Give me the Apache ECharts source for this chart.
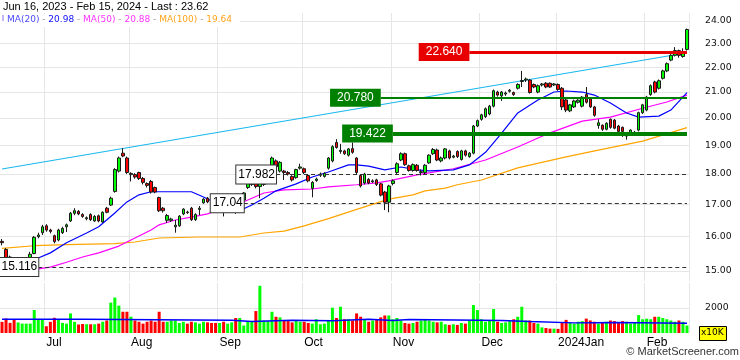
<!DOCTYPE html>
<html><head><meta charset="utf-8">
<script src="https://cdn.jsdelivr.net/npm/echarts@6/dist/echarts.min.js"></script>
<style>html,body{margin:0;padding:0;background:#fff}#c{width:740px;height:360px}</style>
</head><body><div id="c"></div>
<script>
// ---------- data ----------
const startDate = '2023-06-16';
const endDate = '2024-02-15';
const holidays = ['2023-08-15', '2023-12-25', '2023-12-26', '2024-01-01'];
const monthNames = ['Jan','Feb','Mar','Apr','May','Jun','Jul','Aug','Sep','Oct','Nov','Dec'];
const priceTicks = [15, 16, 17, 18, 19, 20, 21, 22, 23, 24];
const volumeTicks = [2000];

// [open, close, low, high]
const candles = [
[15.86,15.82,15.74,15.93],[15.62,15.33,15.30,15.66],[15.40,15.30,15.22,15.44],[15.30,15.20,15.15,15.34],[15.16,15.20,15.12,15.25],
[15.18,15.25,14.92,15.30],[15.28,15.33,15.24,15.37],[15.38,15.48,15.35,15.55],[15.50,15.98,15.48,16.02],[16.00,16.05,15.95,16.12],
[16.12,16.30,16.05,16.36],[16.33,16.20,16.15,16.38],[16.20,16.16,16.10,16.24],[16.03,15.85,15.80,16.06],[15.90,16.20,15.86,16.24],
[16.12,16.25,16.08,16.30],[16.30,16.36,16.14,16.40],[16.48,16.72,16.45,16.76],[16.72,16.80,16.66,16.88],[16.78,16.70,16.66,16.82],
[16.68,16.62,16.58,16.72],[16.55,16.58,16.50,16.62],[16.68,16.52,16.48,16.72],[16.48,16.62,16.45,16.66],[16.64,16.48,16.44,16.68],
[16.45,16.75,16.42,16.78],[16.88,16.75,16.72,16.92],[16.98,17.20,16.95,17.25],[17.42,18.15,17.38,18.20],[18.10,18.55,18.05,18.60],
[18.72,18.62,18.58,18.90],[18.55,18.05,18.00,18.60],[17.98,18.02,17.75,18.06],[17.98,17.90,17.84,18.03],[18.05,17.85,17.80,18.08],
[17.85,17.72,17.65,17.90],[17.68,17.62,17.55,17.72],[17.75,17.40,17.35,17.80],[17.55,17.40,17.36,17.58],[17.22,16.80,16.76,17.25],
[16.88,16.80,16.74,16.92],[16.50,16.65,16.42,16.70],[16.50,16.54,16.45,16.58],[16.30,16.35,16.12,16.51],[16.33,16.63,16.30,16.66],
[16.70,16.85,16.66,16.88],[16.76,16.74,16.70,16.80],[16.88,16.52,16.48,16.92],[16.52,16.68,16.48,16.72],[16.84,16.88,16.66,16.95],
[17.05,17.17,17.02,17.20],[17.20,17.08,17.04,17.24],[17.08,17.00,16.96,17.12],[17.00,16.92,16.85,17.04],[16.95,17.05,16.90,17.08],
[17.05,16.85,16.62,17.08],[16.85,16.95,16.80,16.98],[16.95,17.10,16.92,17.14],[17.05,16.95,16.70,17.08],[16.95,17.15,16.92,17.18],
[17.14,17.37,17.10,17.40],[17.55,17.75,17.50,17.80],[17.65,17.77,17.60,17.82],[17.70,17.58,17.52,17.74],[17.58,17.80,17.20,17.84],
[17.65,17.85,17.60,17.90],[17.70,17.85,17.66,17.92],[18.20,18.55,18.15,18.60],[18.45,18.25,18.20,18.50],[18.10,18.40,18.05,18.44],
[18.10,18.05,17.80,18.14],[18.05,18.00,17.95,18.10],[17.92,17.80,17.75,17.96],[17.88,18.15,17.84,18.18],[18.20,18.24,18.15,18.35],
[18.18,18.05,18.00,18.22],[17.95,17.77,17.72,17.98],[17.52,17.72,17.23,17.76],[17.78,17.83,17.74,17.88],[17.96,18.00,17.90,18.05],
[17.92,18.02,17.88,18.06],[18.20,18.55,18.15,18.58],[18.45,18.95,18.40,19.00],[19.10,18.92,18.88,19.22],[18.78,18.82,18.70,19.05],
[18.80,18.70,18.66,18.84],[18.65,18.87,18.60,18.90],[18.88,18.75,18.70,19.10],[18.55,18.05,18.00,18.58],[17.95,17.60,17.55,17.98],
[17.70,18.00,17.65,18.04],[17.82,17.70,17.66,17.86],[17.74,17.77,17.70,17.82],[17.80,17.65,17.60,17.84],[17.67,17.30,17.26,17.70],
[17.40,17.07,16.82,17.44],[17.07,17.60,16.75,17.64],[17.68,17.77,17.62,17.82],[18.05,18.35,18.00,18.40],[18.48,18.70,18.44,18.75],
[18.70,18.32,18.28,18.74],[18.28,18.12,18.08,18.32],[18.12,18.32,18.08,18.36],[18.30,18.12,18.08,18.34],[18.05,18.08,17.95,18.15],
[18.05,18.30,18.00,18.34],[18.38,18.65,18.35,18.68],[18.70,18.85,18.66,18.90],[18.83,18.48,18.44,18.88],[18.45,18.55,18.40,18.60],
[18.55,18.87,18.50,18.90],[18.80,18.55,18.50,18.84],[18.58,18.62,18.54,18.66],[18.78,18.60,18.55,18.82],[18.50,18.80,18.46,18.84],
[18.80,18.65,18.60,18.84],[18.60,18.72,18.56,18.76],[18.72,19.70,18.68,19.74],[19.70,19.90,19.66,19.94],[19.95,20.12,19.90,20.16],
[20.05,20.35,20.00,20.40],[20.15,20.45,20.10,20.50],[20.45,21.05,20.40,21.10],[21.00,20.88,20.82,21.05],[20.85,21.00,20.65,21.04],
[20.92,20.96,20.85,21.02],[21.03,21.07,20.98,21.12],[20.98,20.90,20.85,21.02],[21.15,21.30,21.10,21.35],[21.42,21.46,21.20,21.85],
[21.48,21.52,21.40,21.58],[21.48,20.98,20.94,21.52],[21.30,21.20,21.15,21.34],[21.00,21.25,20.95,21.30],[21.28,21.32,21.22,21.36],
[21.35,21.20,21.15,21.40],[21.35,21.20,21.16,21.38],[21.28,21.32,21.24,21.36],[21.30,21.10,21.05,21.34],[21.15,20.42,20.30,21.20],
[20.69,20.30,20.22,20.74],[20.27,20.50,20.22,20.54],[20.42,20.65,20.38,20.70],[20.60,20.68,20.55,20.72],[20.45,20.80,20.40,20.84],
[20.90,20.60,20.55,21.20],[20.73,20.42,20.38,20.76],[20.42,20.10,20.05,20.46],[19.72,19.82,19.60,19.95],[19.73,19.58,19.52,19.76],
[19.58,19.80,19.54,19.84],[19.95,19.65,19.60,19.98],[19.92,19.62,19.58,19.96],[19.70,19.50,19.45,19.74],[19.65,19.50,19.30,19.68],
[19.33,19.37,19.20,19.45],[19.38,19.55,19.34,19.58],[19.43,19.47,19.38,19.52],[19.55,20.20,19.50,20.24],[20.20,20.50,20.15,20.54],
[20.30,20.80,20.25,20.85],[20.90,21.25,20.85,21.30],[21.40,21.00,20.95,21.45],[21.15,21.45,21.10,21.50],[21.55,21.85,21.50,21.90],
[21.85,22.15,21.80,22.20],[22.30,22.50,22.25,22.55],[22.50,22.70,22.45,22.85],[22.70,22.50,22.40,22.74],[22.45,22.62,22.40,22.80],
[22.75,23.62,22.70,23.66]
];

// volume, x10K
const volumes = [
890,1160,810,1080,840,750,750,750,1840,1080,
1080,540,890,1215,1080,810,750,1566,890,680,
720,700,700,700,750,900,1000,2430,2835,2190,
1700,1700,1300,1000,900,750,900,1000,900,1700,
900,900,1000,1000,800,900,750,900,850,750,
900,850,800,800,800,900,750,850,1200,1200,
600,950,900,1755,3780,1000,950,1700,1300,1250,
1000,950,850,1000,900,900,800,750,1100,700,
750,1000,2025,1200,2100,1100,1100,1000,1566,1300,
1100,900,1000,1100,1250,1400,1400,1100,1200,1000,
800,750,800,900,1000,1100,1000,900,850,900,
700,650,700,650,800,750,1000,2240,1836,1100,
900,1000,1917,900,800,850,950,1100,1300,2100,
1000,1000,800,750,450,400,350,350,330,800,
1050,800,750,900,950,1150,1000,900,750,800,
900,1000,950,800,950,900,750,850,1430,1100,
1150,1100,1300,1300,1200,1100,1000,900,1000,900,
600
];

const volAvg = [[0,1107],[20,1026],[57,918],[62,1026],[72,972],[82,1107],[91,1000],[97,1080],[101,1000],[124,918],[131,810],[142,837],[152,783],[170,783]];

const ma20 = [[0,15.0],[4,15.15],[9,15.37],[12,15.52],[16,15.82],[21,16.11],[24,16.30],[28,16.73],[31,17.08],[34,17.31],[37,17.41],[47,17.41],[50,17.24],[53,17.05],[57,16.88],[60,16.86],[62,16.98],[65,17.2],[68,17.44],[73,17.67],[77,17.90],[81,18.07],[86,18.31],[88,18.31],[91,18.27],[95,18.14],[99,18.24],[103,18.14],[106,18.11],[112,18.14],[116,18.31],[120,18.75],[124,19.44],[128,20.19],[133,20.69],[137,21.0],[140,21.04],[144,21.0],[147,20.88],[151,20.57],[155,20.19],[158,20.03],[163,20.07],[166,20.30],[170,20.98]];
const ma50 = [[0,14.98],[9,15.06],[12,15.11],[16,15.25],[20,15.40],[24,15.52],[29,15.72],[33,15.96],[37,16.20],[39,16.36],[43,16.51],[47,16.60],[51,16.70],[53,16.79],[57,16.92],[61,17.14],[65,17.37],[70,17.47],[77,17.50],[81,17.57],[88,17.64],[93,17.70],[96,17.77],[103,17.97],[106,18.04],[112,18.18],[120,18.48],[128,18.94],[136,19.45],[144,19.88],[151,20.03],[159,20.37],[165,20.61],[170,20.88]];
const ma100 = [[0,15.65],[8,15.73],[16,15.76],[28,15.79],[33,15.84],[39,15.96],[49,15.99],[59,15.99],[65,16.11],[70,16.17],[75,16.33],[81,16.55],[89,16.88],[96,17.17],[102,17.31],[105,17.44],[110,17.53],[113,17.64],[119,17.80],[128,18.21],[140,18.59],[148,18.83],[159,19.15],[170,19.64]];
const trend = [[0,18.17],[170,22.61]];

const levels = [
  {value: 22.640, from: 116, text: '22.640', kind: 'red'},
  {value: 20.780, from: 94,  text: '20.780', kind: 'green'},
  {value: 19.422, from: 97,  text: '19.422', kind: 'greenThick'},
  {value: 17.982, from: 68,  text: '17.982', kind: 'dash'},
  {value: 17.04,  from: 60,  text: '17.04',  kind: 'dash'},
  {value: 15.116, from: 9,   text: '15.116', kind: 'dash'}
];
const legendItems = [['MA(20)','20.98'],['MA(50)','20.88'],['MA(100)','19.64']];
const titleText = 'Jun 16, 2023 - Feb 15, 2024 - Last : 23.62';

// ---------- build ----------
const LN = Math.log;
const dates = [];
for (let d = new Date(startDate + 'T00:00:00Z'); d <= new Date(endDate + 'T00:00:00Z'); d.setUTCDate(d.getUTCDate() + 1)) {
  const wd = d.getUTCDay();
  const s = d.toISOString().slice(0, 10);
  if (wd === 0 || wd === 6 || holidays.includes(s)) continue;
  dates.push(s);
}
const isMonthStart = (i) => i > 0 && dates[i].slice(5, 7) !== dates[i - 1].slice(5, 7);
const monthLabel = (v) => { const m = +v.slice(5, 7); return m === 1 ? v.slice(0, 4) + 'Jan' : monthNames[m - 1]; };

const pxPerLn = 531.9;
const lnMax = LN(24) + 8 / pxPerLn;
const lnMin = LN(15) - 10 / pxPerLn;
const lnTicks = priceTicks.map(LN);
const gridColor = '#e6e6e6';
const lastIdx = dates.length - 1;

const levelStyle = {
  red: {line: {color: '#e80000', width: 3, type: 'solid'}, label: {backgroundColor: '#e80000', color: '#fff', padding: [3, 7, 2, 7], borderWidth: 0}},
  green: {line: {color: '#008000', width: 2, type: 'solid'}, label: {backgroundColor: '#008000', color: '#fff', padding: [3, 7, 2, 7], borderWidth: 0}},
  greenThick: {line: {color: '#008000', width: 4, type: 'solid'}, label: {backgroundColor: '#008000', color: '#fff', padding: [3, 7, 2, 7], borderWidth: 0}},
  dash: {line: {color: '#333', width: 1, type: [4, 3]}, label: {backgroundColor: '#fff', color: '#000', padding: [3, 1, 2, 2], borderColor: '#333', borderWidth: 1}}
};
const markData = levels.map(l => {
  const st = levelStyle[l.kind];
  return [
    {coord: [l.from, LN(l.value)], lineStyle: st.line,
     label: Object.assign({show: true, position: 'start', distance: 0, formatter: l.text, fontSize: 12, lineHeight: 13,
       fontFamily: 'Liberation Sans, Arial, sans-serif'}, st.label)},
    {coord: [lastIdx, LN(l.value)]}
  ];
});

const volData = volumes.map((v, i) => ({value: v, itemStyle: {color: candles[i][1] >= candles[i][0] ? '#00ff00' : '#ff0000'}}));
const lnPairs = arr => arr.map(p => [p[0], LN(p[1])]);

const lf = 'DejaVu Sans';
const rich = {
  s: {fill: '#9a9a9a', fontSize: 9, fontFamily: lf},
  a: {fill: '#4a4aff', fontSize: 9, fontFamily: lf},
  b: {fill: '#1010ff', fontSize: 9, fontFamily: lf},
  c: {fill: '#ff33ff', fontSize: 9, fontFamily: lf},
  e: {fill: '#ffa31a', fontSize: 9, fontFamily: lf}
};
const legendText = '{a|' + legendItems[0][0] + '}{s| - }{b|' + legendItems[0][1] + '}{s| - }' +
  '{c|' + legendItems[1][0] + '}{s| - }{c|' + legendItems[1][1] + '}{s| - }' +
  '{e|' + legendItems[2][0] + '}{s| - }{e|' + legendItems[2][1] + '}';

const chart = echarts.init(document.getElementById('c'), null, {renderer: 'canvas'});
chart.setOption({
  animation: false,
  backgroundColor: '#fff',
  grid: [
    {left: 0, width: 689, top: 13, height: 268},
    {left: 0, width: 689, top: 283, height: 50}
  ],
  xAxis: [
    {type: 'category', gridIndex: 0, data: dates, boundaryGap: true,
     axisLine: {show: false}, axisTick: {show: false}, axisLabel: {show: false},
     splitLine: {show: true, interval: (i) => isMonthStart(i), lineStyle: {color: gridColor, width: 1}}},
    {type: 'category', gridIndex: 1, data: dates, boundaryGap: true,
     axisLine: {show: false}, axisTick: {show: false},
     axisLabel: {interval: (i) => isMonthStart(i), formatter: monthLabel, align: 'left', margin: 4,
       fontSize: 12, color: '#000', fontFamily: 'Liberation Sans, Arial, sans-serif'},
     splitLine: {show: true, interval: (i) => isMonthStart(i), lineStyle: {color: gridColor, width: 1}}}
  ],
  yAxis: [
    {type: 'value', gridIndex: 0, position: 'right', min: lnMin, max: lnMax, scale: true,
     axisLine: {show: false}, axisTick: {show: false, customValues: lnTicks},
     axisLabel: {customValues: lnTicks, formatter: v => Math.exp(v).toFixed(2), align: 'left', margin: 16,
       fontSize: 9.3, color: '#111', fontFamily: lf},
     splitLine: {show: true, lineStyle: {color: gridColor, width: 1}}},
    {type: 'value', gridIndex: 1, position: 'right', min: 0, max: 4000,
     axisLine: {show: false}, axisTick: {show: false, customValues: volumeTicks},
     axisLabel: {customValues: volumeTicks, formatter: v => String(Math.round(v)), align: 'left', margin: 16,
       fontSize: 9.3, color: '#111', fontFamily: lf},
     splitLine: {show: true, lineStyle: {color: gridColor, width: 1}}}
  ],
  series: [
    {type: 'line', name: 'trend', xAxisIndex: 0, yAxisIndex: 0, data: lnPairs(trend), showSymbol: false, silent: true,
     lineStyle: {color: '#1ab8f0', width: 1.2}, z: 2},
    {type: 'line', name: 'MA100', xAxisIndex: 0, yAxisIndex: 0, data: lnPairs(ma100), showSymbol: false, silent: true,
     lineStyle: {color: '#ffa500', width: 1.2}, z: 3},
    {type: 'line', name: 'MA50', xAxisIndex: 0, yAxisIndex: 0, data: lnPairs(ma50), showSymbol: false, silent: true,
     lineStyle: {color: '#ff00ff', width: 1.2}, z: 3},
    {type: 'line', name: 'MA20', xAxisIndex: 0, yAxisIndex: 0, data: lnPairs(ma20), showSymbol: false, silent: true,
     lineStyle: {color: '#0000ff', width: 1.2}, z: 3},
    {type: 'candlestick', name: 'price', xAxisIndex: 0, yAxisIndex: 0, barWidth: 3,
     data: candles.map(c => c.map(LN)), silent: true, z: 4,
     itemStyle: {color: '#00ff00', color0: '#ff0000', borderColor: '#1a1a1a', borderColor0: '#1a1a1a', borderWidth: 1},
     markLine: {silent: true, symbol: ['none', 'none'], animation: false, label: {show: false}, data: markData, z: 6}},
    {type: 'bar', name: 'volume', xAxisIndex: 1, yAxisIndex: 1, data: volData, barWidth: 3, silent: true},
    {type: 'line', name: 'volAvg', xAxisIndex: 1, yAxisIndex: 1, data: volAvg, step: 'end', showSymbol: false, silent: true,
     lineStyle: {color: '#0000ff', width: 1.5}, z: 5}
  ],
  graphic: [
    {type: 'text', left: 3, top: 1, style: {text: titleText, fill: '#000', font: '11px "Liberation Sans", Arial, sans-serif'}},
    {type: 'rect', left: 0, top: 14, shape: {width: 240, height: 13}, style: {fill: '#fff'}, z: 10},
    {type: 'line', shape: {x1: 3, y1: 15, x2: 3, y2: 21}, style: {stroke: '#8a6cff', lineWidth: 1}, z: 11},
    {type: 'text', left: 7, top: 15, z: 11, style: {text: legendText, rich: rich, fontSize: 9, fontFamily: lf}},
    {type: 'rect', left: 699, top: 326, shape: {width: 27, height: 14}, style: {fill: '#ffff00', stroke: '#000', lineWidth: 1}, z: 10},
    {type: 'text', left: 701, top: 328, z: 11, style: {text: 'x10K', fill: '#000', font: '9px "DejaVu Sans"'}},
    {type: 'text', right: 1, top: 346, style: {text: '\u00a9 MarketScreener.com', fill: '#333', font: '11px "Liberation Sans", Arial, sans-serif'}}
  ]
});
</script></body></html>
